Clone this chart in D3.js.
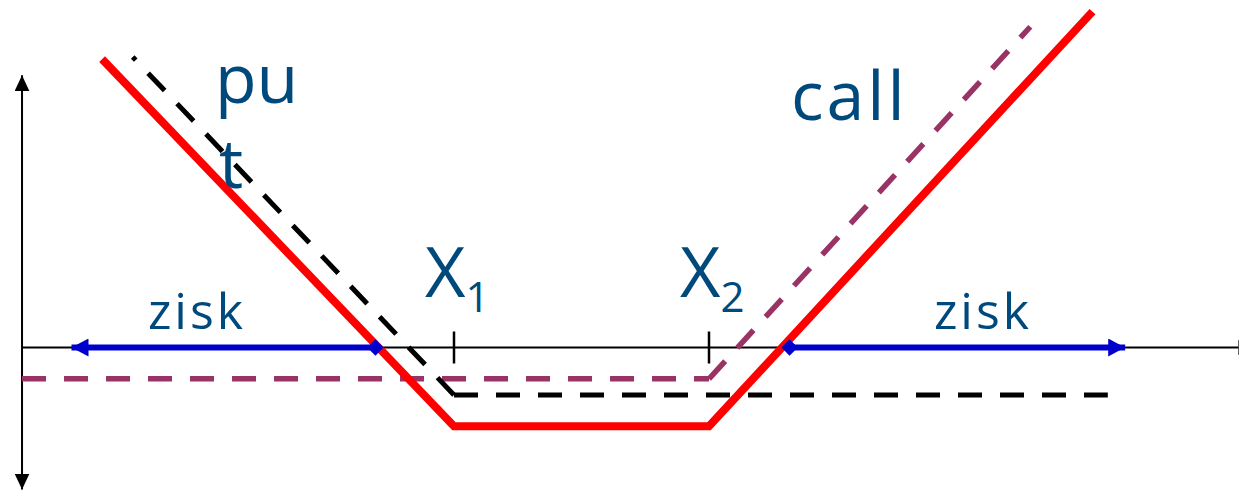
<!DOCTYPE html>
<html><head><meta charset="utf-8">
<script src="https://cdn.jsdelivr.net/npm/d3@7"></script>
<style>html,body{margin:0;padding:0;background:#fff;overflow:hidden}</style>
</head><body>
<svg id="c" width="1239" height="490"></svg>
<script>
// ---- data ----
const strikes = [40, 65];                 // X1, X2
const strikeLabels = ["1", "2"];
const combinedLine = [[5.5, 26.7], [40, -7.3], [65, -7.3], [102.6, 31.1]];   // red (combined position)
const putLine = [[8.5, 26.9], [40, -4.4], [104.1, -4.4]];                      // black dashed (put)
const callLine = [[-2.35, -2.9], [65, -2.9], [96.5, 29.7]];                    // purple dashed (call)
const profitLeft = [32.3, 2.5];           // blue arrow: break-even -> left
const profitRight = [72.9, 105.8];        // blue arrow: break-even -> right
const xExtent = [-2.35, 116.9];
const yExtent = [-13.15, 25.2];
const textLabels = ["pu", "t", "call", "zisk"];

// ---- scales ----
const x = d3.scaleLinear().domain([40, 65]).range([454, 709]);
const y = d3.scaleLinear().domain([0, 10]).range([347.5, 239.5]);

const svg = d3.select("#c");
const defs = svg.append("defs");
function marker(id, color, w, h, refX) {
  defs.append("marker").attr("id", id).attr("viewBox", `0 0 ${w} ${h}`)
    .attr("refX", refX).attr("refY", h / 2).attr("markerWidth", w).attr("markerHeight", h)
    .attr("markerUnits", "userSpaceOnUse").attr("orient", "auto-start-reverse")
    .append("path").attr("d", `M0,0L${w},${h / 2}L0,${h}Z`).attr("fill", color);
}
marker("axArrow", "#000", 16, 15, 16);
marker("axArrowOut", "#000", 16, 15, 0);
marker("blueArrow", "#0000CC", 17, 18, 17);

// axes
svg.append("line").attr("x1", x(xExtent[0])).attr("x2", x(xExtent[1]))
  .attr("y1", y(0)).attr("y2", y(0)).attr("stroke", "#000").attr("stroke-width", 2)
  .attr("marker-end", "url(#axArrowOut)");
svg.append("line").attr("x1", x(xExtent[0])).attr("x2", x(xExtent[0]))
  .attr("y1", y(yExtent[0])).attr("y2", y(yExtent[1])).attr("stroke", "#000").attr("stroke-width", 2)
  .attr("marker-start", "url(#axArrow)").attr("marker-end", "url(#axArrow)");

// strike ticks
svg.selectAll("line.tick").data(strikes).join("line").attr("class", "tick")
  .attr("x1", d => x(d)).attr("x2", d => x(d))
  .attr("y1", y(0) - 16).attr("y2", y(0) + 16)
  .attr("stroke", "#000").attr("stroke-width", 2.5);

const line = d3.line().x(d => x(d[0])).y(d => y(d[1]));

// dashed lines: dash pattern restarts at each segment, drawn outward from the corner
function dashedSegments(pts, corner, color, width) {
  for (let i = 0; i < pts.length - 1; i++) {
    let a = pts[i], b = pts[i + 1];
    if (i + 1 === corner && i + 1 !== 0 && pts === putLine) { [a, b] = [b, a]; }
    svg.append("path").attr("d", line([a, b])).attr("fill", "none")
      .attr("stroke", color).attr("stroke-width", width).attr("stroke-dasharray", "24,18");
  }
}
dashedSegments(callLine, 1, "#993366", 5.5);
dashedSegments(putLine, 1, "#000", 5);

// blue profit arrows
[profitLeft, profitRight].forEach(seg => {
  svg.append("line").attr("x1", x(seg[0])).attr("x2", x(seg[1]))
    .attr("y1", y(0)).attr("y2", y(0)).attr("stroke", "#0000CC").attr("stroke-width", 6)
    .attr("marker-end", "url(#blueArrow)");
});

// red combined
svg.append("path").attr("d", line(combinedLine)).attr("fill", "none")
  .attr("stroke", "#FF0000").attr("stroke-width", 8).attr("stroke-linejoin", "miter");

// break-even diamonds
[profitLeft[0], profitRight[0]].forEach(v => {
  svg.append("path").attr("transform", `translate(${x(v)},${y(0)}) rotate(45)`)
    .attr("d", "M-5.8,-5.8H5.8V5.8H-5.8Z").attr("fill", "#0000CC");
});

// texts
const txtColor = "#00497C";
const font = "'Open Sans', sans-serif";
function txt(str, px, py, size, anchor) {
  return svg.append("text").attr("x", px).attr("y", py).attr("fill", txtColor)
    .attr("font-family", font).attr("font-size", size).attr("text-anchor", anchor || "start").text(str);
}
txt(textLabels[0], 215, 103, 68);
txt(textLabels[1], 219, 188, 68);
txt(textLabels[2], 791, 120, 68).attr("letter-spacing", 3);
txt(textLabels[3], 197, 329, 50, "middle").attr("letter-spacing", 3);
txt(textLabels[3], 983, 329, 50, "middle").attr("letter-spacing", 3);

strikes.forEach((s, i) => {
  const t = svg.append("text").attr("x", x(s) - 29).attr("y", 297).attr("fill", txtColor)
    .attr("font-family", font).attr("font-size", 70);
  t.append("tspan").text("X");
  t.append("tspan").attr("font-size", 42).attr("dy", 15).text(strikeLabels[i]);
});
</script>
</body></html>
